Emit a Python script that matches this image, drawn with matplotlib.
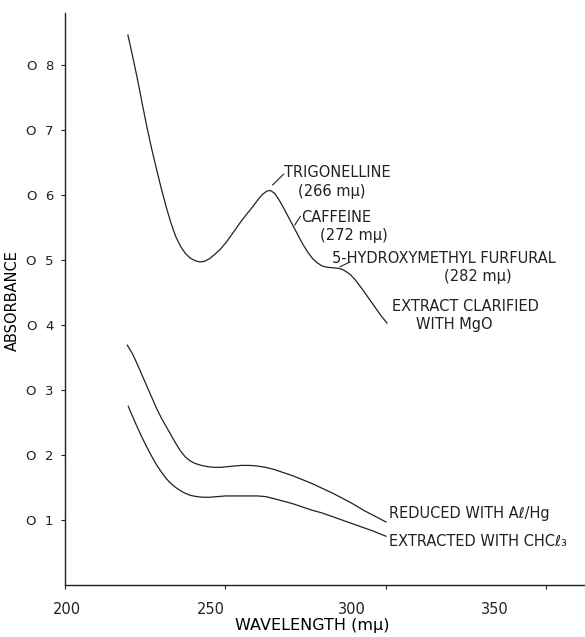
import matplotlib
matplotlib.use("Agg")
import matplotlib.pyplot as plt

plt.rcParams.update({
    "font.family": ["DejaVu Sans"],
    "axes.linewidth": 1.0,
    "axes.edgecolor": "#222222",
    "text.color": "#222222",
    "xtick.color": "#222222",
    "ytick.color": "#222222",
})

# absorbance spectra (wavelength in m-mu)
mgo_wl = [219.6, 221.0, 222.5, 224.0, 225.5, 227.0, 228.5, 230.0, 231.5, 233.0,
          234.5, 236.0, 237.5, 239.0, 240.5, 242.0, 243.5, 245.0, 246.5, 248.3,
          250.5, 252.5, 254.5, 256.5, 258.5, 260.0, 261.5, 262.9, 264.0, 265.2,
          266.5, 267.9, 269.5, 271.0, 272.5, 274.0, 275.5, 277.0, 278.5, 280.0,
          281.5, 283.5, 285.5, 287.0, 288.8, 290.5, 292.5, 294.5, 296.5, 298.5,
          300.3]
mgo_abs = [0.846, 0.815, 0.780, 0.742, 0.705, 0.671, 0.640, 0.610, 0.582, 0.557,
           0.536, 0.521, 0.510, 0.503, 0.499, 0.497, 0.498, 0.502, 0.508, 0.516,
           0.529, 0.543, 0.557, 0.570, 0.582, 0.592, 0.601, 0.606, 0.607, 0.603,
           0.594, 0.582, 0.567, 0.553, 0.539, 0.525, 0.513, 0.503, 0.496, 0.491,
           0.489, 0.488, 0.487, 0.484, 0.478, 0.469, 0.456, 0.442, 0.428, 0.414,
           0.403]

alhg_wl = [219.4, 221.0, 222.5, 224.0, 225.5, 227.0, 228.5, 230.0, 231.5, 233.0,
           234.5, 236.0, 237.5, 239.0, 240.5, 242.5, 244.5, 246.5, 248.5, 250.5,
           252.5, 255.0, 257.5, 260.0, 262.5, 265.0, 268.0, 271.0, 274.0, 277.0,
           280.0, 283.5, 287.0, 290.0, 293.0, 296.5, 300.0]
alhg_abs = [0.369, 0.356, 0.340, 0.323, 0.306, 0.289, 0.272, 0.257, 0.244, 0.231,
            0.218, 0.206, 0.197, 0.191, 0.187, 0.184, 0.182, 0.181, 0.181, 0.182,
            0.183, 0.184, 0.184, 0.183, 0.181, 0.178, 0.173, 0.168, 0.162, 0.156,
            0.149, 0.141, 0.132, 0.124, 0.115, 0.106, 0.097]

chcl3_wl = [219.7, 221.0, 222.5, 224.0, 225.5, 227.0, 228.5, 230.0, 231.5, 233.0,
            234.5, 236.0, 237.5, 239.0, 241.0, 243.0, 245.0, 247.5, 250.0, 252.5,
            255.0, 257.5, 260.0, 262.5, 265.0, 268.0, 271.0, 274.0, 277.0, 280.0,
            284.0, 288.0, 292.0, 296.0, 300.0]
chcl3_abs = [0.275, 0.260, 0.243, 0.227, 0.212, 0.198, 0.185, 0.174, 0.164, 0.156,
             0.150, 0.145, 0.141, 0.138, 0.136, 0.135, 0.135, 0.136, 0.137, 0.137,
             0.137, 0.137, 0.137, 0.136, 0.133, 0.129, 0.125, 0.120, 0.115, 0.111,
             0.104, 0.097, 0.090, 0.083, 0.075]

x_ticks = [200, 250, 300, 350]
x_tick_labels = ["200", "250", "300", "350"]
# lettered scale sits a little left of the ruled ticks
x_label_at = [200.6, 245.5, 289.4, 334.0]
y_ticks = [0.1, 0.2, 0.3, 0.4, 0.5, 0.6, 0.7, 0.8]
y_tick_labels = ["O  1", "O  2", "O  3", "O  4", "O  5", "O  6", "O  7", "O  8"]

fig = plt.figure(figsize=(5.85, 6.37), dpi=100)
ax = fig.add_axes([65 / 585, 52 / 637, 520 / 585, 572 / 637])

ink = "#222222"
for wl, ab in [(mgo_wl, mgo_abs), (alhg_wl, alhg_abs), (chcl3_wl, chcl3_abs)]:
    ax.plot(wl, ab, color=ink, linewidth=0.9, solid_joinstyle="round")

ax.set_xlim(200, 362)
ax.set_ylim(0, 0.88)
ax.spines["top"].set_visible(False)
ax.spines["right"].set_visible(False)

ax.set_xticks(x_ticks)
ax.set_xticklabels([""] * len(x_ticks))
ax.set_xticks(x_label_at, minor=True)
ax.set_xticklabels(x_tick_labels, minor=True, fontsize=10.5)
ax.tick_params(axis="x", which="major", direction="out", length=3, width=0.8)
ax.tick_params(axis="x", which="minor", length=0, pad=12)

ax.set_yticks(y_ticks)
ax.set_yticklabels(y_tick_labels, fontsize=9.5)
ax.tick_params(axis="y", direction="out", length=3, width=0.8, pad=5)

ax.set_xlabel("WAVELENGTH (mµ)", fontsize=11.5)
ax.xaxis.set_label_coords((312 - 65) / 520, -0.057)
ax.set_ylabel("ABSORBANCE", fontsize=10.5)
ax.yaxis.set_label_coords(-0.086, 0.497)

fs = 10.5
# peak annotations with short leader strokes
ax.plot([264.7, 268.1], [0.6155, 0.632], color=ink, linewidth=0.8)
ax.text(268.3, 0.634, "TRIGONELLINE", fontsize=fs, va="center", ha="left")
ax.text(283.2, 0.605, "(266 mµ)", fontsize=fs, va="center", ha="center")

ax.plot([271.6, 273.3], [0.554, 0.567], color=ink, linewidth=0.8)
ax.text(273.7, 0.566, "CAFFEINE", fontsize=fs, va="center", ha="left")
ax.text(290.0, 0.538, "(272 mµ)", fontsize=fs, va="center", ha="center")

ax.plot([285.7, 288.8], [0.4897, 0.497], color=ink, linewidth=0.8)
ax.text(283.3, 0.5026, "5-HYDROXYMETHYL FURFURAL", fontsize=fs, va="center", ha="left")
ax.text(328.5, 0.474, "(282 mµ)", fontsize=fs, va="center", ha="center")

ax.text(302.0, 0.428, "EXTRACT CLARIFIED", fontsize=fs, va="center", ha="left")
ax.text(309.3, 0.401, "WITH MgO", fontsize=fs, va="center", ha="left")

ax.text(301.0, 0.110, "REDUCED WITH Aℓ/Hg", fontsize=fs, va="center", ha="left")
ax.text(300.8, 0.067, "EXTRACTED WITH CHCℓ₃", fontsize=fs, va="center", ha="left")

fig.savefig("out.png", dpi=100)
